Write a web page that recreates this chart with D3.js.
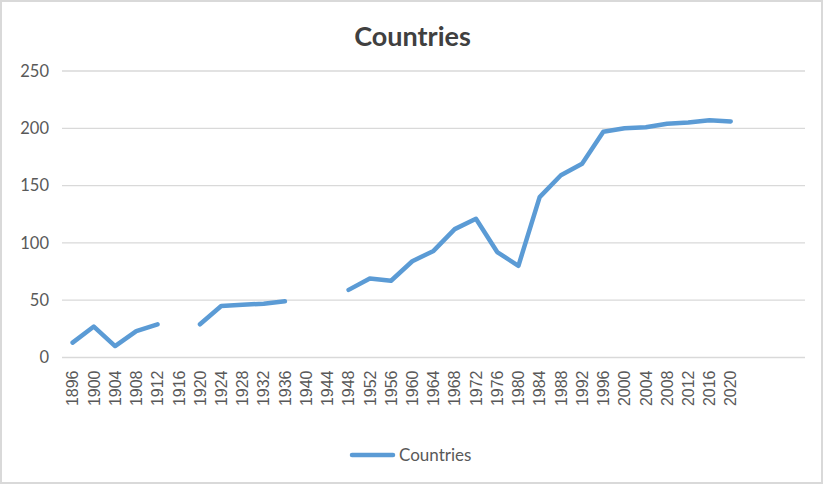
<!DOCTYPE html>
<html>
<head>
<meta charset="utf-8">
<script src="https://cdn.jsdelivr.net/npm/d3@7"></script>
<style>
  html, body { margin: 0; padding: 0; background: #fff; }
  svg { display: block; }
</style>
</head>
<body>
<svg id="chart" width="825" height="486"></svg>
<script>
const categories = ["1896","1900","1904","1908","1912","1916","1920","1924","1928","1932","1936","1940","1944","1948","1952","1956","1960","1964","1968","1972","1976","1980","1984","1988","1992","1996","2000","2004","2008","2012","2016","2020","","",""];
const countries = [13,27,10,23,29,null,29,45,46,47,49,null,null,59,69,67,84,93,112,121,92,80,140,159,169,197,200,201,204,205,207,206,null,null,null];
const yTicks = [0,50,100,150,200,250];
const seriesName = "Countries";
const titleText = "Countries";

const svg = d3.select("#chart");
const W = 825, H = 486;

svg.append("rect").attr("x",1).attr("y",1).attr("width",W-4).attr("height",H-4)
  .attr("fill","#fff").attr("stroke","#d9d9d9").attr("stroke-width",2);

const plot = {left: 62, right: 805, top: 71, bottom: 357.5};

const x = d3.scaleBand().domain(d3.range(categories.length)).range([plot.left, plot.right]).padding(0);
const y = d3.scaleLinear().domain([0,250]).range([plot.bottom, plot.top]);

// gridlines
svg.append("g").selectAll("line").data(yTicks).join("line")
  .attr("x1", plot.left).attr("x2", plot.right)
  .attr("y1", d => y(d)).attr("y2", d => y(d))
  .attr("stroke", "#d9d9d9").attr("stroke-width", 1.3);

// y axis labels
const yAxis = d3.axisLeft(y).tickValues(yTicks).tickSize(0).tickPadding(0);
const gy = svg.append("g").attr("transform", `translate(${plot.left - 13},0)`).call(yAxis);
gy.select(".domain").remove();
gy.selectAll("text").attr("font-family","Lato, 'Open Sans', sans-serif").attr("font-size","16.5px")
  .attr("fill","#595959").attr("text-anchor","end");

// x axis labels
const xAxis = d3.axisBottom(x).tickFormat(i => categories[i]).tickSize(0).tickPadding(0);
const gx = svg.append("g").attr("transform", `translate(0,${plot.bottom})`).call(xAxis);
gx.select(".domain").remove();
gx.selectAll("text")
  .attr("font-family","'Liberation Sans', Arial, sans-serif").attr("font-size","16px")
  .attr("fill","#595959")
  .attr("text-anchor","end")
  .attr("transform","rotate(-90)")
  .attr("x", -13).attr("y", 0).attr("dy","0.36em");

// line
const line = d3.line()
  .defined(d => d != null)
  .x((d,i) => x(i) + x.bandwidth()/2)
  .y(d => y(d));
svg.append("path").datum(countries)
  .attr("d", line)
  .attr("fill","none").attr("stroke","#5b9bd5").attr("stroke-width",4.5)
  .attr("stroke-linejoin","round").attr("stroke-linecap","round");

// title
svg.append("text").attr("x", 412.5).attr("y", 46).attr("text-anchor","middle")
  .attr("font-family","Lato, 'Open Sans', sans-serif").attr("font-weight","bold").attr("font-size","27px")
  .attr("fill","#404040").text(titleText);

// legend
const lg = svg.append("g");
lg.append("line").attr("x1",352).attr("x2",393).attr("y1",455).attr("y2",455)
  .attr("stroke","#5b9bd5").attr("stroke-width",4.5).attr("stroke-linecap","round");
lg.append("text").attr("x",399).attr("y",461).attr("font-family","Lato, 'Open Sans', sans-serif")
  .attr("font-size","17px").attr("fill","#595959").text(seriesName);
</script>
</body>
</html>
